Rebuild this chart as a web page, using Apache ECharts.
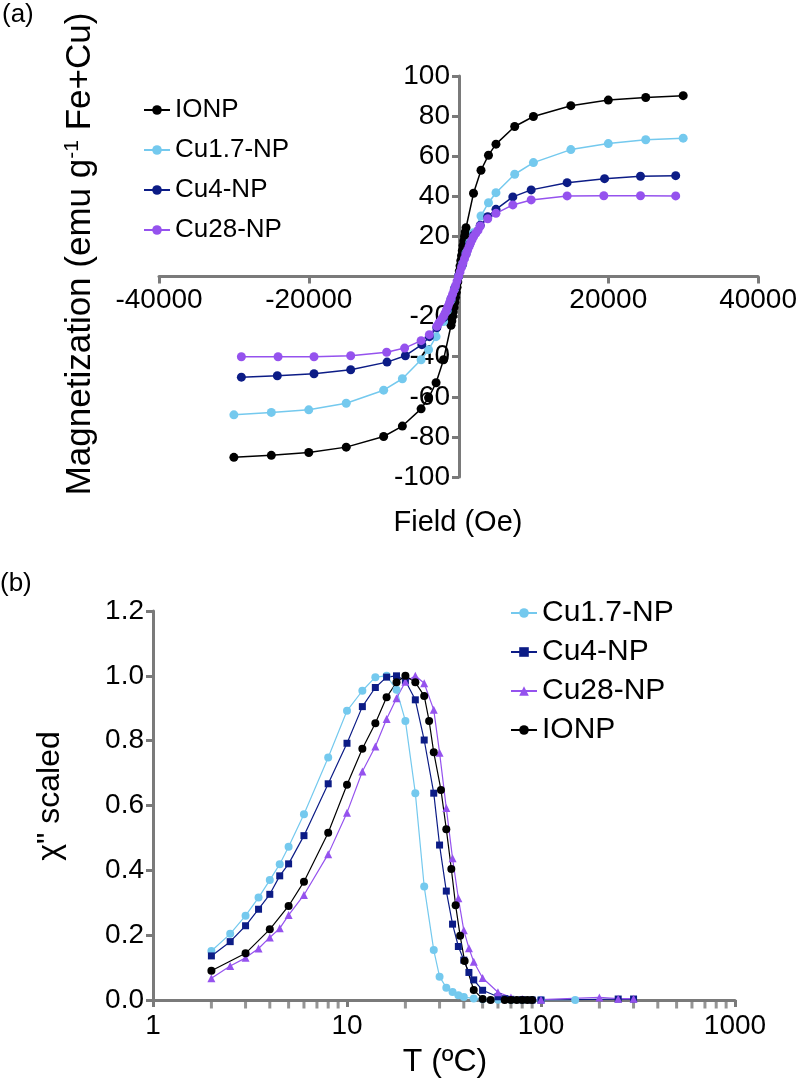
<!DOCTYPE html>
<html>
<head>
<meta charset="utf-8">
<script src="https://cdn.jsdelivr.net/npm/echarts@6/dist/echarts.min.js"></script>
<style>
  html, body { margin: 0; padding: 0; background: #fff; }
  #top { width: 800px; height: 565px; }
  #bottom { width: 800px; height: 519px; }
</style>
</head>
<body>
<div id="top"></div>
<div id="bottom"></div>
<script>
// (a) magnetization vs field, [field Oe, emu/g]
var ionpM = [
  [-30000, -90.2], [-25000, -89.2], [-20000, -87.8], [-15000, -85.1], [-10000, -79.8],
  [-7500, -74.6], [-5000, -66], [-4000, -60.5], [-3000, -53], [-2000, -41.5],
  [-1000, -24.3], [-900, -22.2], [-800, -20], [-700, -17.7], [-600, -15.4], [-500, -12.9],
  [-400, -10.4], [-300, -7.9], [-200, -5.3], [-100, -2.7], [0, 0],
  [100, 2.7], [200, 5.3], [300, 7.9], [400, 10.4], [500, 12.9], [600, 15.4],
  [700, 17.7], [800, 20], [900, 22.2], [1000, 24.3],
  [2000, 41.5], [3000, 53], [4000, 60.5], [5000, 66], [7500, 74.8],
  [10000, 79.8], [15000, 85.2], [20000, 88], [25000, 89.3], [30000, 90.2]
];
var cu17M = [
  [-30000, -69], [-25000, -67.8], [-20000, -66.5], [-15000, -63.2], [-10000, -56.7],
  [-7500, -51], [-5000, -41.5], [-4000, -36.5], [-3000, -30], [-2000, -22.5],
  [-1500, -17], [-1000, -11.7], [-500, -6], [0, 0], [500, 6], [1000, 11.7],
  [1500, 17], [2000, 21.8], [3000, 30.2], [4000, 36.8], [5000, 41.8],
  [7500, 51], [10000, 56.8], [15000, 63.3], [20000, 66.3], [25000, 68.2], [30000, 69]
];
var cu4M = [
  [-29000, -50.2], [-24200, -49.5], [-19300, -48.5], [-14400, -46.5], [-9550, -42.7],
  [-7100, -39.5], [-4900, -34], [-3900, -30], [-2900, -25.5], [-2000, -20.5],
  [-1500, -16.2], [-1000, -11.2], [-500, -5.7], [0, 0], [500, 5.7], [1000, 11.2],
  [1500, 16.2], [2000, 20.5], [2900, 25.5], [3900, 29.8], [5000, 33.5],
  [7250, 39.7], [9700, 43.2], [14500, 46.8], [19500, 48.8], [24300, 50], [29000, 50.3]
];
var cu28M = [
  [-29000, -40], [-24100, -40], [-19300, -40], [-14400, -39.5], [-9600, -37.8],
  [-7200, -35.7], [-5000, -32], [-3900, -29], [-2900, -24.8], [-2600, -23],
  [-2300, -21.5], [-2000, -19.8], [-1800, -18.3], [-1600, -16.7], [-1400, -14.9],
  [-1200, -13], [-1000, -11], [-800, -8.9], [-600, -6.8], [-400, -4.6], [-200, -2.3],
  [0, 0], [200, 2.3], [400, 4.6], [600, 6.8], [800, 8.9], [1000, 11], [1200, 13],
  [1400, 14.9], [1600, 16.7], [1800, 18.3], [2000, 19.8], [2300, 21.5], [2600, 23],
  [2900, 25.2], [3900, 28.8], [5000, 31.5], [7250, 35.7], [9700, 38.2],
  [14500, 40.2], [19400, 40.3], [24300, 40.3], [29000, 40.2]
];

// (b) scaled chi'' vs T, [T, value]
var cu17Chi = [
  [2, 0.151], [2.5, 0.204], [3, 0.26], [3.5, 0.316], [4, 0.37], [4.5, 0.419], [5, 0.473],
  [6, 0.573], [8, 0.748], [10, 0.892], [12, 0.954], [14, 0.996], [16, 1.0], [18, 0.957],
  [20, 0.861], [22.5, 0.638], [25, 0.35], [28, 0.154], [30, 0.072], [32.5, 0.038],
  [35, 0.025], [37.5, 0.015], [40, 0.009], [45, 0.005], [50, 0.002], [60, 0.001],
  [70, 0], [80, 0], [90, 0], [100, 0], [150, 0]
];
var cu4Chi = [
  [2, 0.136], [2.5, 0.18], [3, 0.229], [3.5, 0.28], [4, 0.326], [4.5, 0.383], [5, 0.42],
  [6, 0.507], [8, 0.667], [10, 0.792], [12, 0.905], [14, 0.964], [16, 0.996], [18, 1.0],
  [20, 0.985], [22.5, 0.926], [25, 0.802], [28, 0.638], [30, 0.478], [32.5, 0.336],
  [35, 0.234], [37.5, 0.165], [40, 0.123], [42.5, 0.085], [45, 0.062], [50, 0.03],
  [60, 0.01], [65, 0.004], [70, 0.002], [80, 0.001], [90, 0], [100, 0],
  [250, 0.003], [300, 0.003]
];
var cu28Chi = [
  [2, 0.067], [2.5, 0.105], [3, 0.13], [3.5, 0.159], [4, 0.193], [4.5, 0.221], [5, 0.262],
  [6, 0.324], [8, 0.45], [10, 0.578], [12, 0.705], [14, 0.782], [16, 0.867], [18, 0.931],
  [20, 0.982], [22.5, 1.0], [25, 0.977], [28, 0.895], [30, 0.763], [32.5, 0.592],
  [35, 0.437], [37.5, 0.314], [40, 0.215], [42.5, 0.16], [45, 0.118], [50, 0.068],
  [60, 0.024], [70, 0.008], [80, 0.003], [100, 0.001], [200, 0.008], [250, 0.004], [300, 0.004]
];
var ionpChi = [
  [2, 0.09], [3, 0.144], [4, 0.218], [5, 0.29], [6, 0.365], [8, 0.516], [10, 0.664],
  [12, 0.775], [14, 0.854], [16, 0.934], [18, 0.98], [20, 1.0], [22.5, 0.98], [25, 0.938],
  [26.5, 0.861], [28, 0.764], [30.5, 0.648], [32.5, 0.527], [34.5, 0.404], [36.3, 0.292],
  [38.3, 0.198], [40.4, 0.12], [45, 0.031], [50, 0.003], [55, 0], [65, 0], [70, 0],
  [75, 0], [80, 0], [85, 0], [90, 0]
];
var minorTickT = [2, 3, 4, 5, 6, 7, 8, 9, 20, 30, 40, 50, 60, 70, 80, 90,
  200, 300, 400, 500, 600, 700, 800, 900];

var FONT = "'Liberation Sans', Arial, sans-serif";
var AXIS = '#7a7a7a';
var C_IONP = '#000000', C_CU17 = '#74c9ee', C_CU4 = '#0c1c86', C_CU28 = '#9552ee';

function lineSeries(name, data, color, symbol, size, lw) {
  return {
    name: name,
    type: 'line',
    data: data,
    symbol: symbol,
    symbolSize: size,
    showSymbol: true,
    itemStyle: { color: color },
    lineStyle: { color: color, width: lw },
    emphasis: { disabled: true },
    animation: false
  };
}

// axes cross at the origin: shift both axes to the middle of the grid
var topGrid = { left: 159, right: 41, top: 76, bottom: 88 };
var topW = 800 - topGrid.left - topGrid.right;
var topH = 565 - topGrid.top - topGrid.bottom;

var topChart = echarts.init(document.getElementById('top'));
topChart.setOption({
  backgroundColor: '#fff',
  animation: false,
  grid: topGrid,
  legend: {
    orient: 'vertical',
    left: 138,
    top: 92,
    itemGap: 14,
    itemWidth: 26,
    itemHeight: 12,
    textStyle: { fontFamily: FONT, fontSize: 26, color: '#000' },
    data: ['IONP', 'Cu1.7-NP', 'Cu4-NP', 'Cu28-NP']
  },
  xAxis: {
    type: 'value',
    position: 'bottom',
    offset: -topH / 2,
    min: -40000, max: 40000, interval: 20000,
    axisLine: { onZero: false, lineStyle: { color: AXIS, width: 3 } },
    axisTick: { show: true, length: 7, lineStyle: { color: AXIS, width: 3 } },
    axisLabel: {
      margin: 10, color: '#000', fontFamily: FONT, fontSize: 28,
      formatter: function (v) { return v === 0 ? '' : String(v); }
    },
    splitLine: { show: false }
  },
  yAxis: {
    type: 'value',
    position: 'left',
    offset: -topW / 2,
    min: -100, max: 100, interval: 20,
    axisLine: { onZero: false, lineStyle: { color: AXIS, width: 3 } },
    axisTick: { show: true, length: 7, lineStyle: { color: AXIS, width: 3 } },
    axisLabel: {
      margin: 9, color: '#000', fontFamily: FONT, fontSize: 28,
      formatter: function (v) { return v === 0 ? '' : String(v); }
    },
    splitLine: { show: false }
  },
  graphic: [
    { type: 'text', left: 2, top: 2, style: { text: '(a)', font: '26px ' + FONT, fill: '#000' } },
    {
      type: 'text', x: 80, y: 254, rotation: Math.PI / 2,
      style: {
        text: '{n|Magnetization (emu g}{s|-1}{n| Fe+Cu)}',
        align: 'center', verticalAlign: 'middle', fill: '#000',
        rich: {
          n: { fontFamily: FONT, fontSize: 35, fill: '#000' },
          s: { fontFamily: FONT, fontSize: 21, fill: '#000', padding: [0, 0, 16, 0] }
        }
      }
    },
    {
      type: 'text', x: 458, y: 523,
      style: { text: 'Field (Oe)', font: '29px ' + FONT, fill: '#000', align: 'center', verticalAlign: 'middle' }
    }
  ],
  series: [
    lineSeries('IONP', ionpM, C_IONP, 'circle', 9, 1.5),
    lineSeries('Cu1.7-NP', cu17M, C_CU17, 'circle', 9, 1.5),
    lineSeries('Cu4-NP', cu4M, C_CU4, 'circle', 9, 1.5),
    lineSeries('Cu28-NP', cu28M, C_CU28, 'circle', 9, 1.5)
  ]
});

var bottomChart = echarts.init(document.getElementById('bottom'));
bottomChart.setOption({
  backgroundColor: '#fff',
  animation: false,
  grid: { left: 153, right: 65, top: 46, bottom: 84 },
  legend: {
    orient: 'vertical',
    left: 505,
    top: 28,
    itemGap: 9,
    itemWidth: 26,
    itemHeight: 12,
    textStyle: { fontFamily: FONT, fontSize: 30, color: '#000' },
    data: ['Cu1.7-NP', 'Cu4-NP', 'Cu28-NP', 'IONP']
  },
  xAxis: {
    type: 'log',
    logBase: 10,
    min: 1, max: 1000,
    axisLine: { onZero: false, lineStyle: { color: AXIS, width: 3 } },
    axisTick: { show: true, length: 7, lineStyle: { color: AXIS, width: 3 } },
    axisLabel: {
      margin: 12, color: '#000', fontFamily: FONT, fontSize: 28,
      formatter: function (v) { return String(Math.round(v)); }
    },
    splitLine: { show: false }
  },
  yAxis: {
    type: 'value',
    min: 0, max: 1.2, interval: 0.2,
    axisLine: { show: true, lineStyle: { color: AXIS, width: 3 } },
    axisTick: { show: true, length: 7, lineStyle: { color: AXIS, width: 3 } },
    axisLabel: {
      margin: 9, color: '#000', fontFamily: FONT, fontSize: 28,
      formatter: function (v) { return v.toFixed(1); }
    },
    splitLine: { show: false }
  },
  graphic: [
    { type: 'text', left: 0, top: 6, style: { text: '(b)', font: '26px ' + FONT, fill: '#000' } },
    {
      type: 'text', x: 50, y: 231, rotation: Math.PI / 2,
      style: { text: 'χ" scaled', font: '32px ' + FONT, fill: '#000', align: 'center', verticalAlign: 'middle' }
    },
    {
      type: 'text', x: 445, y: 497,
      style: { text: 'T (ºC)', font: '32px ' + FONT, fill: '#000', align: 'center', verticalAlign: 'middle' }
    }
  ],
  series: [
    {
      name: 'minor',
      type: 'scatter',
      data: minorTickT.map(function (t) { return [t, 0]; }),
      symbol: 'rect',
      symbolSize: [3, 7],
      symbolOffset: [0, 5],
      itemStyle: { color: AXIS },
      clip: false,
      silent: true,
      z: 1
    },
    lineSeries('Cu1.7-NP', cu17Chi, C_CU17, 'circle', 8, 1.2),
    lineSeries('Cu4-NP', cu4Chi, C_CU4, 'rect', 7, 1.2),
    lineSeries('Cu28-NP', cu28Chi, C_CU28, 'triangle', 8, 1.2),
    lineSeries('IONP', ionpChi, C_IONP, 'circle', 8, 1.2)
  ]
});
</script>
</body>
</html>
